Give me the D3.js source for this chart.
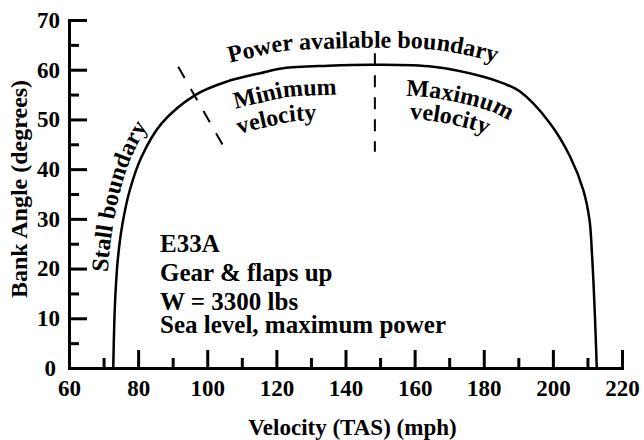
<!DOCTYPE html>
<html>
<head>
<meta charset="utf-8">
<script src="https://cdn.jsdelivr.net/npm/d3@7"></script>
<style>
body { margin: 0; background: #fff; }
text { font-family: "Liberation Serif", "Times New Roman", serif; font-weight: bold; fill: #000; }
</style>
</head>
<body>
<svg width="644" height="440"></svg>
<script>
// turn envelope boundary (left bottom -> top -> right bottom)
var velocity  = [72.8, 73.1, 73.5, 74.2, 75.5, 77.6, 81.0, 86.8, 96.5, 105.6, 115.3, 122.0, 135.0, 148.5, 165.4, 179.9, 185.5, 190.5, 199.2, 205.0, 208.8, 210.6, 211.3, 211.8, 212.3, 212.7];
var bankAngle = [0, 9.0, 15.7, 22.4, 29.1, 35.8, 42.5, 49.2, 54.9, 57.6, 59.3, 60.3, 60.8, 61.0, 60.6, 58.6, 57.3, 55.6, 49.2, 42.5, 35.8, 29.8, 23.1, 16.4, 8.0, 0];

// dashed divider lines
var splitVel  = [148.5, 148.5];
var splitBank = [63.3, 43.5];
var stallMarkVel  = [91.6, 104.85];
var stallMarkBank = [60.6, 44.4];

var xMajorTicks = [60, 80, 100, 120, 140, 160, 180, 200, 220];
var xMinorTicks = [70, 90, 110, 130, 150, 170, 190, 210];
var yMajorTicks = [0, 10, 20, 30, 40, 50, 60, 70];
var yMinorTicks = [5, 15, 25, 35, 45, 55, 65];

var infoLines = ["E33A", "Gear & flaps up", "W = 3300 lbs", "Sea level, maximum power"];
var curveLabels = ["Stall boundary", "Power available boundary", "Minimum", "velocity", "Maximum", "velocity"];

var svg = d3.select("svg");
var x = d3.scaleLinear().domain([60, 220]).range([69, 622]);
var y = d3.scaleLinear().domain([0, 70]).range([368, 20]);

// axes
var gx = svg.append("g").attr("transform", "translate(0,368)");
gx.call(d3.axisBottom(x).tickValues(xMajorTicks).tickSize(-18).tickSizeOuter(0).tickPadding(12).tickFormat(d3.format("d")));
var gxm = svg.append("g").attr("transform", "translate(0,368)");
gxm.call(d3.axisBottom(x).tickValues(xMinorTicks).tickSize(-10).tickSizeOuter(0).tickFormat(""));

var gy = svg.append("g").attr("transform", "translate(69,0)");
gy.call(d3.axisLeft(y).tickValues(yMajorTicks).tickSize(-18).tickSizeOuter(0).tickPadding(9).tickFormat(d3.format("d")));
var gym = svg.append("g").attr("transform", "translate(69,0)");
gym.call(d3.axisLeft(y).tickValues(yMinorTicks).tickSize(-10).tickSizeOuter(0).tickFormat(""));

svg.selectAll(".domain").attr("stroke", "#000").attr("stroke-width", 3).attr("stroke-linecap", "square");
svg.selectAll(".tick line").attr("stroke", "#000").attr("stroke-width", 3);
svg.selectAll(".tick text").style("font-size", "23px").attr("fill", "#000");
gy.selectAll(".tick").filter(function (d) { return d === 0; }).select("text").attr("x", -13);
gxm.select(".domain").remove();
gym.select(".domain").remove();

// axis titles
svg.append("text")
    .attr("x", (x(60) + x(220)) / 2 + 7)
    .attr("y", 435)
    .attr("text-anchor", "middle")
    .style("font-size", "23px")
    .text("Velocity (TAS) (mph)");

svg.append("text")
    .attr("transform", "translate(27," + ((y(0) + y(70)) / 2 - 5) + ") rotate(-90)")
    .attr("text-anchor", "middle")
    .style("font-size", "24px")
    .text("Bank Angle (degrees)");

// boundary curve
var line = d3.line()
    .x(function (i) { return x(velocity[i]); })
    .y(function (i) { return y(bankAngle[i]); })
    .curve(d3.curveCatmullRom.alpha(0.5));

var boundary = svg.append("path")
    .datum(d3.range(velocity.length))
    .attr("d", line)
    .attr("fill", "none")
    .attr("stroke", "#000")
    .attr("stroke-width", 2.5);

var seg = d3.line()
    .x(function (d) { return x(d[0]); })
    .y(function (d) { return y(d[1]); });

svg.append("path")
    .datum(d3.zip(splitVel, splitBank))
    .attr("d", seg)
    .attr("stroke", "#000").attr("stroke-width", 2)
    .attr("stroke-dasharray", "12,10");

svg.append("path")
    .datum(d3.zip(stallMarkVel, stallMarkBank))
    .attr("d", seg)
    .attr("stroke", "#000").attr("stroke-width", 2)
    .attr("stroke-dasharray", "13,12.5");

// text following the curve, offset sideways (positive = outside)
var node = boundary.node();
var total = node.getTotalLength();
var samples = d3.range(0, total, 1).map(function (l) { return node.getPointAtLength(l); });
var defs = svg.append("defs");

function curveLabel(txt, v, b, off, size, id) {
    var px = x(v), py = y(b);
    var i0 = d3.minIndex(samples, function (p) { return (p.x - px) * (p.x - px) + (p.y - py) * (p.y - py); });
    var lo = Math.max(1, i0 - 170), hi = Math.min(samples.length - 2, i0 + 170);
    var pts = [];
    for (var i = lo; i <= hi; i++) {
        var a = samples[i - 1], c = samples[i + 1];
        var dx = c.x - a.x, dy = c.y - a.y, n = Math.hypot(dx, dy);
        pts.push([samples[i].x + off * dy / n, samples[i].y - off * dx / n]);
    }
    var len = 0;
    for (var k = 1; k <= i0 - lo; k++) {
        len += Math.hypot(pts[k][0] - pts[k - 1][0], pts[k][1] - pts[k - 1][1]);
    }
    defs.append("path").attr("id", id).attr("d", d3.line()(pts));
    svg.append("text")
        .style("font-size", size + "px")
        .append("textPath")
        .attr("href", "#" + id)
        .attr("startOffset", len)
        .attr("text-anchor", "middle")
        .text(txt);
}

curveLabel(curveLabels[0], 74.5, 34.4, 9, 24, "lab0");
curveLabel(curveLabels[1], 145, 64.4, 17, 24, "lab1");
curveLabel(curveLabels[2], 122.8, 53.9, -29, 24, "lab2");
curveLabel(curveLabels[3], 120.5, 48.9, -54, 24, "lab3");
curveLabel(curveLabels[4], 172.6, 52.9, -31, 24, "lab4");
curveLabel(curveLabels[5], 169.7, 48.9, -54, 24, "lab5");

// info block
var infoY = [252, 281, 310, 333];
svg.selectAll(".info")
    .data(infoLines)
    .enter().append("text")
    .attr("class", "info")
    .attr("x", 160)
    .attr("y", function (d, i) { return infoY[i]; })
    .style("font-size", "25px")
    .text(function (d) { return d; });
</script>
</body>
</html>
